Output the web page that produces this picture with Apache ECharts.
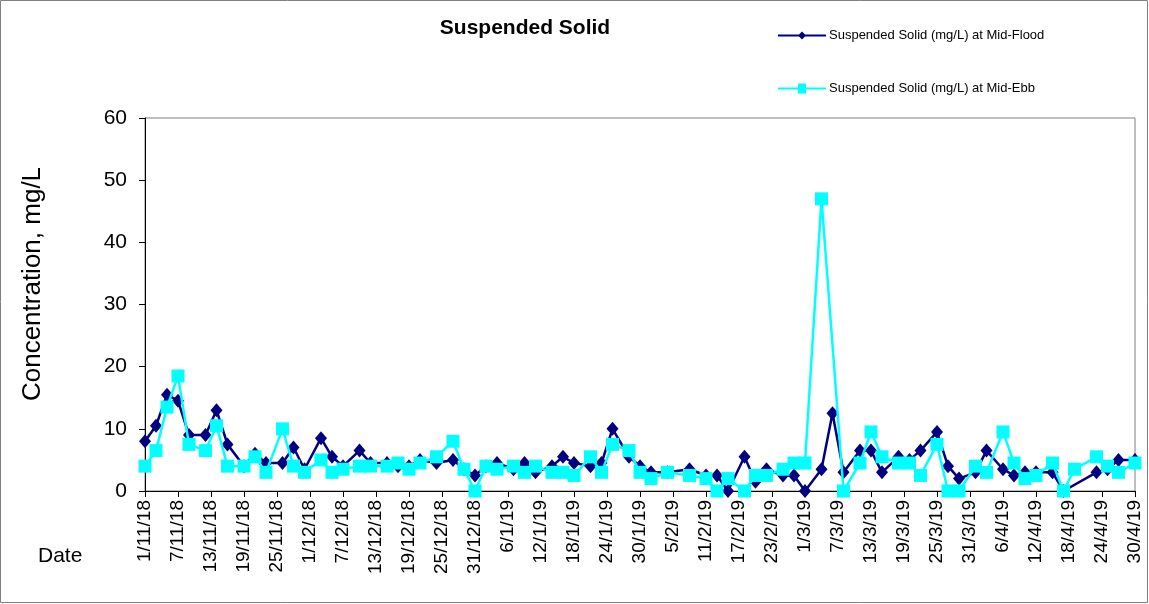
<!DOCTYPE html>
<html>
<head>
<meta charset="utf-8">
<script src="https://cdn.jsdelivr.net/npm/echarts@6/dist/echarts.min.js"></script>
<style>
html,body{margin:0;padding:0;background:#fff;}
#c{width:1149px;height:604px;}
</style>
</head>
<body>
<div id="c"></div>
<script>
const startDate = '2018-11-01';
const endDate = '2019-04-30';
const tickStepDays = 6;

const floodDates = ['2018-11-01','2018-11-03','2018-11-05','2018-11-07','2018-11-09','2018-11-12','2018-11-14','2018-11-16','2018-11-19','2018-11-21','2018-11-23','2018-11-26','2018-11-28','2018-11-30','2018-12-03','2018-12-05','2018-12-07','2018-12-10','2018-12-12','2018-12-15','2018-12-17','2018-12-19','2018-12-21','2018-12-24','2018-12-27','2018-12-29','2018-12-31','2019-01-02','2019-01-04','2019-01-07','2019-01-09','2019-01-11','2019-01-14','2019-01-16','2019-01-18','2019-01-21','2019-01-23','2019-01-25','2019-01-28','2019-01-30','2019-02-01','2019-02-04','2019-02-08','2019-02-11','2019-02-13','2019-02-15','2019-02-18','2019-02-20','2019-02-22','2019-02-25','2019-02-27','2019-03-01','2019-03-04','2019-03-06','2019-03-08','2019-03-11','2019-03-13','2019-03-15','2019-03-18','2019-03-20','2019-03-22','2019-03-25','2019-03-27','2019-03-29','2019-04-01','2019-04-03','2019-04-06','2019-04-08','2019-04-10','2019-04-12','2019-04-15','2019-04-17','2019-04-23','2019-04-25','2019-04-27','2019-04-30'];
const floodValues = [8,10.5,15.5,14.5,9,9,13,7.5,4,6,4.5,4.5,7,3.5,8.5,5.5,4,6.5,4.5,4.5,4,4,5,4.5,5,3.5,2.5,4,4.5,3.5,4.5,3,4,5.5,4.5,4,4.5,10,5.5,4,3,3,3.5,2.5,2.5,0,5.5,1.5,3.5,2.5,2.5,0,3.5,12.5,3,6.5,6.5,3,5.5,5,6.5,9.5,4,2,3,6.5,3.5,2.5,3,3,3,0,3,3.5,5,5];

const ebbDates = ['2018-11-01','2018-11-03','2018-11-05','2018-11-07','2018-11-09','2018-11-12','2018-11-14','2018-11-16','2018-11-19','2018-11-21','2018-11-23','2018-11-26','2018-11-28','2018-11-30','2018-12-03','2018-12-05','2018-12-07','2018-12-10','2018-12-12','2018-12-15','2018-12-17','2018-12-19','2018-12-21','2018-12-24','2018-12-27','2018-12-29','2018-12-31','2019-01-02','2019-01-04','2019-01-07','2019-01-09','2019-01-11','2019-01-14','2019-01-16','2019-01-18','2019-01-21','2019-01-23','2019-01-25','2019-01-28','2019-01-30','2019-02-01','2019-02-04','2019-02-08','2019-02-11','2019-02-13','2019-02-15','2019-02-18','2019-02-20','2019-02-22','2019-02-25','2019-02-27','2019-03-01','2019-03-04','2019-03-08','2019-03-11','2019-03-13','2019-03-15','2019-03-18','2019-03-20','2019-03-22','2019-03-25','2019-03-27','2019-03-29','2019-04-01','2019-04-03','2019-04-06','2019-04-08','2019-04-10','2019-04-12','2019-04-15','2019-04-17','2019-04-19','2019-04-23','2019-04-25','2019-04-27','2019-04-30'];
const ebbValues = [4,6.5,13.5,18.5,7.5,6.5,10.5,4,4,5.5,3,10,4,3,5,3,3.5,4,4,4,4.5,3.5,4.5,5.5,8,3.5,0,4,3.5,4,3,4,3,3,2.5,5.5,3,7.5,6.5,3,2,3,2.5,2,0,2,0,2.5,2.5,3.5,4.5,4.5,47,0,4.5,9.5,5.5,4.5,4.5,2.5,7.5,0,0,4,3,9.5,4.5,2,2.5,4.5,0,3.5,5.5,4,3,4.5];

const yMin = 0, yMax = 60, yStep = 10;
const titleText = 'Suspended Solid';
const floodName = 'Suspended Solid (mg/L) at Mid-Flood';
const ebbName = 'Suspended Solid (mg/L) at Mid-Ebb';
const yName = 'Concentration, mg/L';
const xName = 'Date';

const DAY = 86400000;
function toUTC(s){const p=s.split('-').map(Number);return Date.UTC(p[0],p[1]-1,p[2]);}
const t0 = toUTC(startDate);
function dayOf(s){return Math.round((toUTC(s)-t0)/DAY);}
function fmt(d){const dt=new Date(t0+d*DAY);return dt.getUTCDate()+'/'+(dt.getUTCMonth()+1)+'/'+String(dt.getUTCFullYear()).slice(2);}

const floodData = floodDates.map((d,i)=>[dayOf(d),floodValues[i]]);
const ebbData = ebbDates.map((d,i)=>[dayOf(d),ebbValues[i]]);
const xMax = dayOf(endDate);

const FONT = 'Liberation Sans, Arial, sans-serif';
const chart = echarts.init(document.getElementById('c'));
chart.setOption({
  animation:false,
  backgroundColor:'#fff',
  title:{text:titleText,left:520,top:13,textAlign:'center',textStyle:{fontFamily:FONT,fontSize:21,fontWeight:'bold',color:'#000'}},
  legend:{
    orient:'vertical',left:778,top:29,padding:0,itemWidth:48,itemHeight:12,itemGap:40,
    textStyle:{fontFamily:FONT,fontSize:13,color:'#000',padding:[0,0,0,-2]},
    data:[{name:floodName,icon:'path://M0,5 L48,5 L48,7 L0,7 Z M20,6 L24,2 L28,6 L24,10 Z'},{name:ebbName,icon:'path://M0,5 L48,5 L48,7 L0,7 Z M20,1 L28,1 L28,11 L20,11 Z'}]
  },
  grid:{left:145,right:14,top:118,bottom:113,show:true,borderColor:'#808080',borderWidth:1,backgroundColor:'transparent'},
  xAxis:{
    type:'value',min:0,max:xMax,interval:tickStepDays,
    axisLine:{onZero:false,lineStyle:{color:'#000',width:1}},
    axisTick:{inside:false,length:6,lineStyle:{color:'#000'}},
    splitLine:{show:false},
    axisLabel:{rotate:90,margin:9,fontFamily:FONT,fontSize:19,color:'#000',formatter:v=>fmt(v),showMaxLabel:true,showMinLabel:true}
  },
  yAxis:{
    type:'value',min:yMin,max:yMax,interval:yStep,
    axisLine:{show:true,lineStyle:{color:'#000',width:1}},
    axisTick:{show:true,inside:false,length:6,lineStyle:{color:'#000'}},
    splitLine:{show:false},
    axisLabel:{margin:18,fontFamily:FONT,fontSize:21,color:'#000'}
  },
  graphic:[
    {type:'text',x:33,y:284,rotation:Math.PI/2,style:{text:yName,font:'26px '+FONT,fill:'#000',textAlign:'center',textVerticalAlign:'middle'}},
    {type:'text',left:38,top:546,style:{text:xName,font:'21px '+FONT,fill:'#000'}},
    {type:'rect',shape:{x:0.5,y:0.5,width:1147,height:602},style:{fill:'none',stroke:'#808080',lineWidth:1},silent:true}
  ],
  series:[
    {name:floodName,type:'line',data:floodData,color:'#000080',symbol:'diamond',symbolSize:[12,14],
     lineStyle:{color:'#000080',width:2.5},itemStyle:{color:'#000080'},z:2},
    {name:ebbName,type:'line',data:ebbData,color:'#00FFFF',symbol:'rect',symbolSize:13,
     lineStyle:{color:'#00FFFF',width:2.5},itemStyle:{color:'#00FFFF'},z:3}
  ]
});
</script>
</body>
</html>
